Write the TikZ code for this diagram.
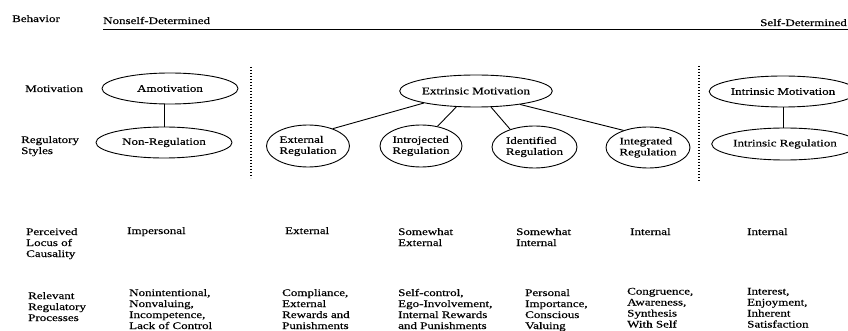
\documentclass[tikz,border=0pt]{standalone}
\usepackage{fontspec}
\setmainfont{Liberation Serif}[FakeStretch=1.3,FakeBold=0.5]
\usetikzlibrary{shapes.geometric}

\begin{document}
\begin{tikzpicture}[x=1pt,y=-1pt,
		oval/.style={ellipse,draw,line width=0.9pt,inner sep=0pt,align=left,font=\fontsize{10}{11}\selectfont},
		lbl/.style={anchor=base west,align=left,inner sep=0pt,font=\fontsize{10}{11}\selectfont},
		link/.style={line width=0.9pt},
		divider/.style={line width=1.2pt,dash pattern=on 1.2pt off 1.8pt}]
		\useasboundingbox (0,0) rectangle (848,331);
		%\fill[lightgray] (0,0) rectangle (848,331);
		\node[lbl] (behavior) at (12,22) {Behavior};
		\node[lbl] (nonself) at (103,24) {Nonself-Determined};
		\node[lbl,anchor=base east] (selfdet) at (847,26) {Self-Determined};
		\coordinate (axisL) at (103,29);
		\coordinate (axisR) at (848,29);
		\draw[link] (axisL)--(axisR);

		\coordinate (divAtop) at (251,67);
		\coordinate (divAbot) at (251,178);
		\coordinate (divBtop) at (699,66);
		\coordinate (divBbot) at (699,182);
		\draw[divider] (divAtop)--(divAbot);
		\draw[divider] (divBtop)--(divBbot);

		% base of a node with several lines is its last line
		\node[lbl] (motiv) at (25,92) {Motivation};
		\node[lbl] (regstyles) at (21,154) {Regulatory\\Styles};

		\node[oval,minimum width=136pt,minimum height=31pt] (amot) at (170,88.5) {Amotivation};
		\node[oval,minimum width=136pt,minimum height=31pt] (nonreg) at (164,142.5) {Non-Regulation};
		\node[oval,minimum width=135pt,minimum height=32pt] (extm) at (476,91) {Extrinsic Motivation};
		\node[oval,minimum width=83pt,minimum height=42pt] (ext) at (308,146) {External\\Regulation};
		\node[oval,minimum width=82pt,minimum height=42pt] (intro) at (421,146) {Introjected\\Regulation};
		\node[oval,minimum width=85pt,minimum height=42pt] (ident) at (534.5,147) {Identified\\Regulation};
		\node[oval,minimum width=84pt,minimum height=41pt] (integ) at (648,147.5) {Integrated\\Regulation};
		\node[oval,minimum width=134pt,minimum height=31pt] (intrm) at (783,91.5) {Intrinsic Motivation};
		\node[oval,minimum width=132pt,minimum height=32pt] (intrr) at (785,144) {Intrinsic Regulation};

		\draw[link] (amot.south -| nonreg.north)--(nonreg.north);
		\draw[link] (extm.193)--(ext.35);
		\draw[link] (extm.219)--(intro.50);
		\draw[link] (extm.313)--(ident.144);
		\draw[link] (extm.343)--(integ.145);
		\draw[link] (intrm.south)--(intrm.south |- intrr.north);

		\node[lbl] (locus) at (26,257) {Perceived\\Locus of\\Causality};
		\node[lbl] (locA) at (127,234) {Impersonal};
		\node[lbl] (locB) at (285,234) {External};
		\node[lbl] (locC) at (398,246) {Somewhat\\External};
		\node[lbl] (locD) at (516,246) {Somewhat\\Internal};
		\node[lbl] (locE) at (630,235) {Internal};
		\node[lbl] (locF) at (747,235) {Internal};

		\node[lbl] (procs) at (28,321) {Relevant\\Regulatory\\Processes};
		\node[lbl] (procA) at (129,329) {Nonintentional,\\Nonvaluing,\\Incompetence,\\Lack of Control};
		\node[lbl] (procB) at (282,329) {Compliance,\\External\\Rewards and\\Punishments};
		\node[lbl] (procC) at (398,329) {Self-control,\\Ego-Involvement,\\Internal Rewards\\and Punishments};
		\node[lbl] (procD) at (525,329) {Personal\\Importance,\\Conscious\\Valuing};
		\node[lbl] (procE) at (627,327.5) {Congruence,\\Awareness,\\Synthesis\\With Self};
		\node[lbl] (procF) at (747,327.5) {Interest,\\Enjoyment,\\Inherent\\Satisfaction};
	\end{tikzpicture}
\end{document}
